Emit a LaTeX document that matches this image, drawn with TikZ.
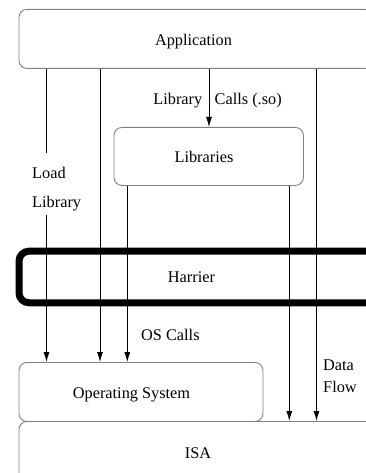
\documentclass[tikz,border=0pt]{standalone}
\usepackage{fontspec}
\setmainfont{Liberation Serif}
\usetikzlibrary{arrows.meta}
\begin{document}
\begin{tikzpicture}[x=1pt,y=-1pt,
  layer/.style={draw=black!50, line width=0.9pt, rounded corners=8pt, inner sep=0pt, anchor=north west},
  shim/.style={draw=black, line width=7pt, rounded corners=10pt, inner sep=0pt, anchor=north west},
  txt/.style={font=\fontsize{16.3}{20}\selectfont, inner sep=0pt},
  flow/.style={draw=black, line width=0.9pt},
  arr/.style={flow, -{Latex[length=10pt,width=6pt]}},
]
\useasboundingbox (0,0) rectangle (366,473);
\clip (0,0) rectangle (366,473);

% software layers
\node[layer, minimum width=354pt, minimum height=59pt] (app) at (18.5,9) {};
\node[layer, minimum width=189.5pt, minimum height=58pt] (libs) at (113.5,127) {};
\node[layer, minimum width=244pt, minimum height=59pt] (os) at (18.5,362) {};
\node[layer, minimum width=400pt, minimum height=100pt] (isa) at (18.5,421) {};
\node[shim, minimum width=380pt, minimum height=51.6pt] (harrier) at (15.5,247.7) {};

% layer names
\node[txt, anchor=base] (applbl) at (193.5,46) {Application};
\node[txt, anchor=base] (libslbl) at (204,163) {Libraries};
\node[txt, anchor=base] (harrierlbl) at (191.5,282) {Harrier};
\node[txt, anchor=base] (oslbl) at (131.5,398) {Operating System};
\node[txt, anchor=base] (isalbl) at (198,458) {ISA};

% x positions of the call paths
\coordinate (cA) at (46.5,0);
\coordinate (cB) at (100,0);
\coordinate (cC) at (209,0);
\coordinate (cD) at (127.3,0);
\coordinate (cE) at (289.3,0);
\coordinate (cF) at (316.5,0);
\coordinate (gapTop) at (46.5,153);
\coordinate (gapBot) at (46.5,215);

% calls and data flow
\draw[flow] (app.south -| cA) -- (gapTop);
\draw[arr] (gapBot) -- (os.north -| cA);
\draw[arr] (app.south -| cB) -- (os.north -| cB);
\draw[arr] (app.south -| cC) -- (libs.north -| cC);
\draw[arr] (libs.south -| cD) -- (os.north -| cD);
\draw[arr] (libs.south -| cE) -- (isa.north -| cE);
\draw[arr] (app.south -| cF) -- (isa.north -| cF);

% path labels
\node[txt, anchor=base east] (libcallA) at (202.5,105) {Library};
\node[txt, anchor=base west] (libcallB) at (214.5,105) {Calls (.so)};
\node[txt, anchor=base west] (loadA) at (32,178) {Load};
\node[txt, anchor=base west] (loadB) at (32,207) {Library};
\node[txt, anchor=base west] (oscalls) at (141,340) {OS Calls};
\node[txt, anchor=base west] (dataA) at (323,370) {Data};
\node[txt, anchor=base west] (dataB) at (323,392) {Flow};
\end{tikzpicture}
\end{document}
